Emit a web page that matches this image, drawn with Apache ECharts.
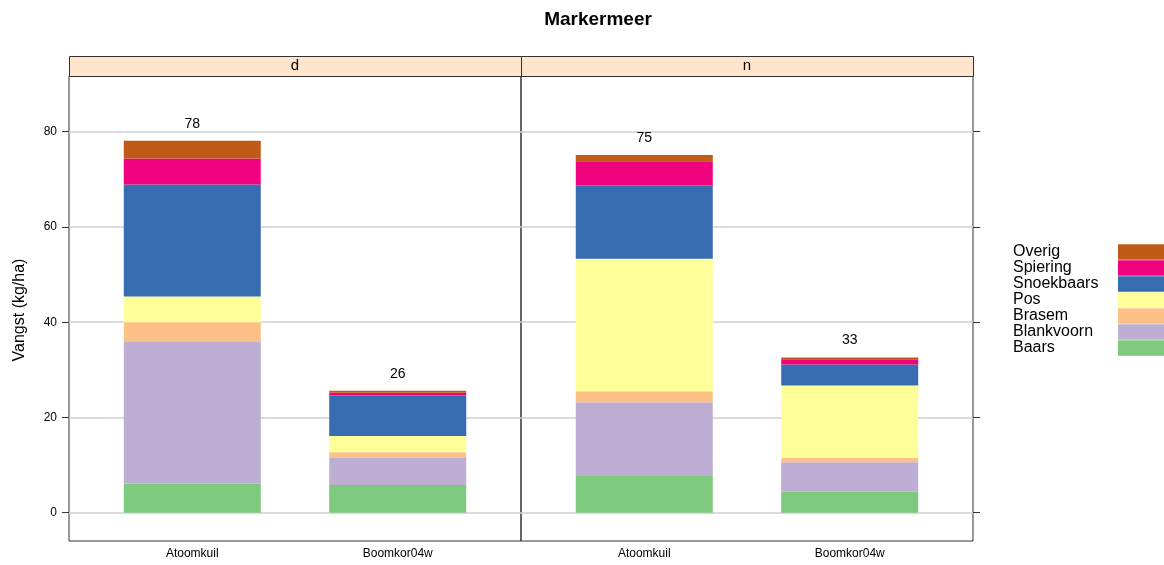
<!DOCTYPE html>
<html>
<head>
<meta charset="utf-8">
<script src="https://cdn.jsdelivr.net/npm/echarts@6/dist/echarts.min.js"></script>
<style>
  html, body { margin: 0; padding: 0; background: #fff; }
  #chart { width: 1164px; height: 565px; }
</style>
</head>
<body>
<div id="chart"></div>
<script>
var chart = echarts.init(document.getElementById('chart'));

var categories = ['Atoomkuil', 'Boomkor04w'];
var panels = ['d', 'n'];
var species = ['Baars', 'Blankvoorn', 'Brasem', 'Pos', 'Snoekbaars', 'Spiering', 'Overig'];
var colors = ['#7FC97F', '#BEAED4', '#FDC086', '#FFFF99', '#386CB0', '#F0027F', '#BF5B17'];
var yTicks = [0, 20, 40, 60, 80];

// values per species, [Atoomkuil, Boomkor04w]
var valuesD = [
    [6.1, 5.8],
    [29.9, 5.7],
    [4.0, 1.2],
    [5.4, 3.4],
    [23.5, 8.5],
    [5.5, 0.6],
    [3.7, 0.4]
];
var valuesN = [
    [7.7, 4.4],
    [15.5, 6.2],
    [2.3, 0.9],
    [27.8, 15.2],
    [15.4, 4.4],
    [5.1, 1.1],
    [1.3, 0.4]
];
var panelValues = [valuesD, valuesN];

var font = '"Liberation Sans", Arial, sans-serif';
var yMin = -5.95, yMax = 91.7;
var plotTop = 76, plotHeight = 465;
var panelLeft = [69, 521], panelWidth = 452;

var grids = [], xAxes = [], yAxes = [], series = [], graphics = [];

panels.forEach(function (p, pi) {
    var left = panelLeft[pi];
    // frame grid: border, gridlines, y ticks
    grids.push({
        left: left, top: plotTop, width: panelWidth, height: plotHeight,
        show: true, borderColor: '#333', borderWidth: 1, containLabel: false
    });
    xAxes.push({ type: 'value', gridIndex: pi * 2, min: 0, max: 1, show: false });
    yAxes.push({
        type: 'value', gridIndex: pi * 2, min: yMin, max: yMax,
        position: pi === 0 ? 'left' : 'right',
        axisLine: { show: false, onZero: false },
        axisTick: { show: true, inside: false, length: 7, customValues: yTicks, lineStyle: { color: '#333' } },
        axisLabel: {
            show: pi === 0, customValues: yTicks, margin: 12,
            color: '#000', fontSize: 12, fontFamily: font
        },
        splitLine: { show: true, lineStyle: { color: '#cfcfcf', width: 1.5 } }
    });
    // bar grid, categories at 1 and 2 on a 0.4..2.6 panel range
    var inset = panelWidth * 0.1 / 2.2;
    grids.push({
        left: left + inset, top: plotTop, width: panelWidth * 2 / 2.2, height: plotHeight
    });
    xAxes.push({
        type: 'category', gridIndex: pi * 2 + 1, data: categories,
        axisLine: { show: false }, axisTick: { show: false },
        axisLabel: { margin: 7, color: '#000', fontSize: 12, fontFamily: font }
    });
    yAxes.push({ type: 'value', gridIndex: pi * 2 + 1, min: yMin, max: yMax, show: false });

    species.forEach(function (s, si) {
        var last = si === species.length - 1;
        series.push({
            name: s,
            type: 'bar',
            stack: p,
            xAxisIndex: pi * 2 + 1,
            yAxisIndex: pi * 2 + 1,
            barWidth: 137,
            itemStyle: { color: colors[si] },
            label: last ? {
                show: true, position: 'top', distance: 10,
                color: '#000', fontSize: 14, fontFamily: font,
                formatter: function (params) {
                    var total = 0;
                    panelValues[pi].forEach(function (row) { total += row[params.dataIndex]; });
                    return Math.round(total);
                }
            } : { show: false },
            emphasis: { disabled: true },
            data: panelValues[pi][si]
        });
    });

    // strip
    graphics.push({
        type: 'rect', left: left, top: 56,
        shape: { width: panelWidth, height: 20 },
        style: { fill: '#FFE5CC', stroke: '#333', lineWidth: 1 }
    });
    graphics.push({
        type: 'text', x: left + panelWidth / 2, y: 66,
        style: { text: p, fill: '#000', font: '15px ' + font, textAlign: 'center', textVerticalAlign: 'middle' }
    });
});

graphics.push({
    type: 'text', x: 20, y: 310, rotation: Math.PI / 2,
    style: { text: 'Vangst (kg/ha)', fill: '#000', font: '16px ' + font, textAlign: 'center', textVerticalAlign: 'middle' }
});

var option = {
    animation: false,
    title: {
        text: 'Markermeer', left: 593, top: 5, textAlign: 'center',
        textStyle: { fontSize: 19, fontWeight: 'bold', color: '#000', fontFamily: font }
    },
    legend: {
        orient: 'vertical', left: 1013, top: 244, padding: 0,
        align: 'right', itemWidth: 50, itemHeight: 15.7, itemGap: 0,
        icon: 'rect', selectedMode: false,
        data: species.slice().reverse(),
        formatter: '{a|{name}}',
        textStyle: {
            color: '#000', fontSize: 16, fontFamily: font,
            rich: { a: { width: 100, align: 'left', fontSize: 16, lineHeight: 15.7, fontFamily: font, color: '#000' } }
        }
    },
    grid: grids,
    xAxis: xAxes,
    yAxis: yAxes,
    series: series,
    graphic: graphics
};
chart.setOption(option);
</script>
</body>
</html>
